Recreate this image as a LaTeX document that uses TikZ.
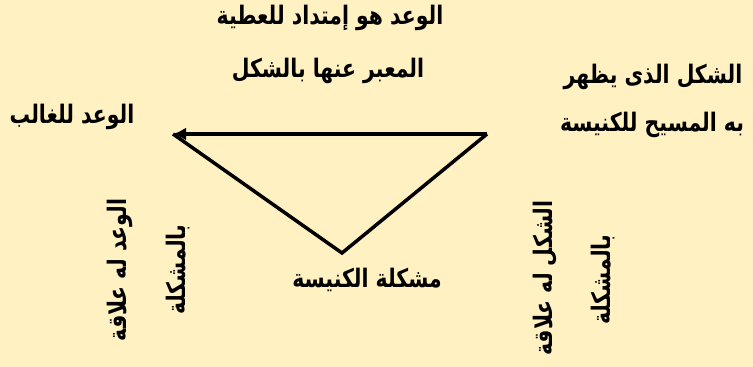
\documentclass[tikz,border=0pt]{standalone}
\usepackage{fontspec}
\newfontfamily\arabicfont[Script=Arabic, FakeStretch=0.8]{DejaVu Sans}
\TeXXeTstate=1
\usetikzlibrary{arrows.meta}
\definecolor{fondo}{RGB}{255,241,194}

\begin{document}
\begin{tikzpicture}[x=1pt, y=-1pt, >={Latex[length=13pt,width=13pt]},
  texto/.style={inner sep=0pt, font=\arabicfont\bfseries\fontsize{25.5}{28}\selectfont},
  vertical/.style={texto, rotate=90}]
  \fill[fondo] (0,0) rectangle (753,367);
  \useasboundingbox (0,0) rectangle (753,367);

  \coordinate (derecha) at (487,134);
  \coordinate (izquierda) at (173,134);
  \coordinate (abajo) at (342,253);

  \draw[->, line width=3.5pt] (derecha) -- (izquierda);
  \draw[line width=3.5pt, line join=miter] (izquierda) -- (abajo) -- (derecha);

  \node[texto] (promesa) at (330,18) {\beginR الوعد هو إمتداد للعطية\endR};
  \node[texto] (forma) at (328,71) {\beginR المعبر عنها بالشكل\endR};
  \node[texto] (aparece) at (653,77) {\beginR الشكل الذى يظهر\endR};
  \node[texto] (cristo) at (652,125) {\beginR به المسيح للكنيسة\endR};
  \node[texto] (vencedor) at (72,117) {\beginR الوعد للغالب\endR};
  \node[texto] (problema) at (367,280) {\beginR مشكلة الكنيسة\endR};

  \node[vertical] (relpromesa) at (120,270) {\beginR الوعد له علاقة\endR};
  \node[vertical] (relpromesab) at (178,270) {\beginR بالمشكلة\endR};
  \node[vertical] (relforma) at (545,278) {\beginR الشكل له علاقة\endR};
  \node[vertical] (relformab) at (603,280) {\beginR بالمشكلة\endR};
\end{tikzpicture}
\end{document}
